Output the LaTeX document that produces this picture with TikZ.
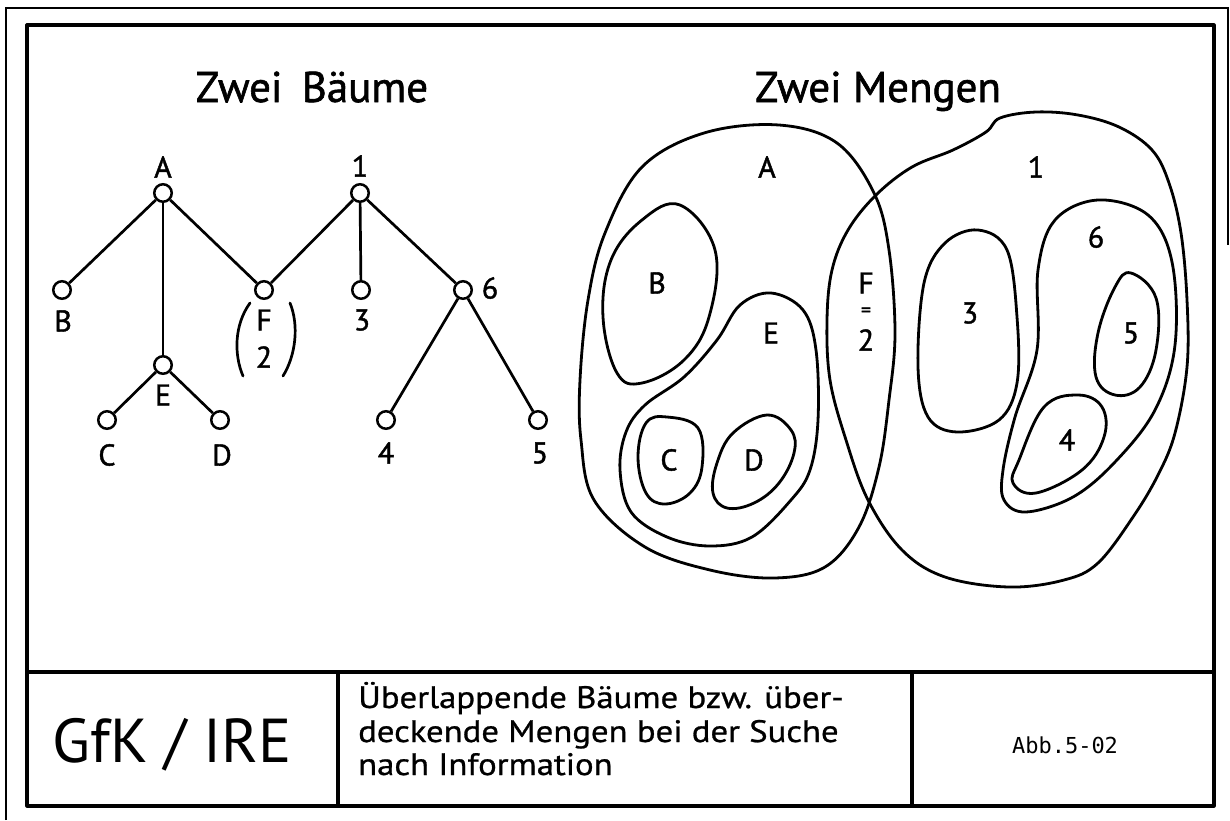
\documentclass[tikz,border=0pt]{standalone}
\usepackage{fontspec}
\setmainfont{PT Sans}
\newfontfamily\penfont[FakeBold=1.4]{PT Sans}
\newfontfamily\capfont[FakeBold=0.8]{PT Sans}
\newfontfamily\monofont{DejaVu Sans Mono}
\begin{document}
\begin{tikzpicture}[x=1pt,y=-1pt,
  outerline/.style={line width=2.2pt},
  frameline/.style={line width=3.2pt, line join=round},
  knot/.style={circle, draw, fill=white, line width=2.5pt, minimum size=17.5pt, inner sep=0pt},
  branch/.style={line width=2.7pt},
  setline/.style={line width=2.8pt, line join=round},
  lbl/.style={font=\penfont\fontsize{30}{30}\selectfont, inner sep=0pt},
  ttl/.style={font=\penfont\fontsize{43}{43}\selectfont, inner sep=0pt, anchor=base},
  captxt/.style={font=\capfont\fontsize{31}{31}\selectfont, inner sep=0pt, anchor=base west}]
\useasboundingbox (0,0) rectangle (1230,820);

% sheet border and title block
\coordinate (o1) at (6,820);
\coordinate (o2) at (6,8);
\coordinate (o3) at (1228,8);
\coordinate (o4) at (1228,245);
\draw[outerline] (o1) -- (o2) -- (o3) -- (o4);
\draw[frameline] (27,25) rectangle (1214,806);
\coordinate (tbl) at (27,672);
\coordinate (tbr) at (1214,672);
\draw[frameline] (tbl) -- (tbr);
\coordinate (d1t) at (338,672);
\coordinate (d1b) at (338,806);
\coordinate (d2t) at (912,672);
\coordinate (d2b) at (912,806);
\draw[frameline] (d1t) -- (d1b);
\draw[frameline] (d2t) -- (d2b);

% titles
\node[ttl] (ttlTrees) at (312,102) {Zwei\hspace{0.45em}Bäume};
\node[ttl] (ttlSets) at (878,102) {Zwei Mengen};

% the two trees
\node[knot] (nA) at (163,193) {};
\node[knot] (n1) at (360,193) {};
\node[knot] (nB) at (62,290) {};
\node[knot] (nF) at (264,290) {};
\node[knot] (n3) at (361,290) {};
\node[knot] (n6) at (463,290) {};
\node[knot] (nE) at (163,365) {};
\node[knot] (nC) at (107,420) {};
\node[knot] (nD) at (220,420) {};
\node[knot] (n4) at (386,420) {};
\node[knot] (n5) at (538,420) {};

\draw[branch] (nA) -- (nB);
\draw[branch] (nA) -- (nE);
\draw[branch] (nA) -- (nF);
\draw[branch] (n1) -- (nF);
\draw[branch] (n1) -- (n3);
\draw[branch] (n1) -- (n6);
\draw[branch] (nE) -- (nC);
\draw[branch] (nE) -- (nD);
\draw[branch] (n6) -- (n4);
\draw[branch] (n6) -- (n5);

\node[lbl] (lA) at (163,167) {A};
\node[lbl] (l1) at (360,166) {1};
\node[lbl] (lB) at (63,321) {B};
\node[lbl] (lF) at (264,320) {F};
\node[lbl] (lF2) at (264,357) {2};
\node[lbl] (l3) at (362,320) {3};
\node[lbl] (l6) at (490,288) {6};
\node[lbl] (lE) at (163,395) {E};
\node[lbl] (lC) at (107,455) {C};
\node[lbl] (lD) at (222,455) {D};
\node[lbl] (l4) at (386,453) {4};
\node[lbl] (l5) at (540,453) {5};

% brackets round F / 2
\draw[branch, line cap=round] (250,303) .. controls (234,325) and (234,355) .. (243,376);
\draw[branch, line cap=round] (290,303) .. controls (299,325) and (296,355) .. (283,376);

% the two sets
\draw[setline] plot[smooth cycle, tension=0.6] coordinates {
  (779,125) (837,143) (874,193) (889,250) (895,333) (889,400) (879,467)
  (859,527) (825,567) (774,578) (710,570) (645,547) (594,500) (581,440)
  (580,380) (588,300) (605,233) (642,167) (704,133)};
\draw[setline] plot[smooth cycle, tension=0.6] coordinates {
  (876,195) (912,167) (953,150) (986,132) (1000,118) (1036,112) (1078,115)
  (1119,127) (1152,150) (1169,183) (1181,233) (1187,300) (1187,367)
  (1175,433) (1158,475) (1133,517) (1098,563) (1064,580) (1009,587)
  (945,577) (902,550) (868,500) (846,440) (830,380) (827,320) (832,270)
  (848,230)};
% subsets of A
\draw[setline] plot[smooth cycle, tension=0.65] coordinates {
  (680,205) (715,250) (709,317) (684,360) (642,383) (617,373) (603,317)
  (611,260) (642,220)};
\draw[setline] plot[smooth cycle, tension=0.6] coordinates {
  (771,293) (803,310) (816,350) (818,420) (810,470) (791,500) (752,537)
  (710,546) (667,537) (631,512) (620,470) (626,432) (645,405) (684,377)
  (717,340) (740,305)};
\draw[setline] plot[smooth cycle, tension=0.65] coordinates {
  (667,417) (698,428) (702,467) (690,493) (665,504) (646,493) (638,457)
  (646,423)};
\draw[setline] plot[smooth cycle, tension=0.65] coordinates {
  (767,415) (791,430) (794,453) (779,483) (754,503) (727,508) (713,493)
  (717,463) (733,433)};
% subsets of 1
\draw[setline] plot[smooth cycle, tension=0.6] coordinates {
  (978,230) (1007,250) (1017,317) (1017,383) (999,420) (957,432) (928,417)
  (918,367) (924,283) (945,243)};
\draw[setline] plot[smooth cycle, tension=0.6] coordinates {
  (1098,200) (1148,215) (1172,262) (1175,345) (1155,410) (1115,462)
  (1073,497) (1026,512) (1004,500) (1003,470) (1015,417) (1037,350)
  (1038,270) (1055,220)};
\draw[setline] plot[smooth cycle, tension=0.65] coordinates {
  (1131,273) (1156,298) (1156,350) (1140,387) (1115,395) (1096,377)
  (1098,333) (1115,287)};
\draw[setline] plot[smooth cycle, tension=0.65] coordinates {
  (1078,395) (1102,407) (1104,437) (1082,470) (1036,493) (1013,483)
  (1019,460) (1044,407)};

\node[lbl] (sA) at (767,167) {A};
\node[lbl] (s1) at (1036,167) {1};
\node[lbl] (sB) at (657,283) {B};
\node[lbl] (sE) at (771,333) {E};
\node[lbl] (sC) at (669,460) {C};
\node[lbl] (sD) at (754,460) {D};
\node[lbl] (sF) at (866,283) {F};
\node[lbl, font=\penfont\fontsize{20}{20}\selectfont] (sEq) at (866,312) {=};
\node[lbl] (s2) at (866,340) {2};
\node[lbl] (s3) at (970,313) {3};
\node[lbl] (s6) at (1096,237) {6};
\node[lbl] (s5) at (1131,333) {5};
\node[lbl] (s4) at (1067,440) {4};

% title block texts
\node[inner sep=0pt, anchor=base, font=\fontsize{62}{62}\selectfont] (org) at (172,762) {GfK / IRE};
\node[captxt] (cap1) at (358,708) {\scalebox{1.12}[1]{Überlappende Bäume bzw. über-}};
\node[captxt] (cap2) at (358,742) {\scalebox{1.12}[1]{deckende Mengen bei der Suche}};
\node[captxt] (cap3) at (358,775) {\scalebox{1.12}[1]{nach Information}};
\node[inner sep=0pt, anchor=base, font=\monofont\fontsize{22}{22}\selectfont] (fig) at (1065,753) {Abb.5-02};
\end{tikzpicture}
\end{document}
